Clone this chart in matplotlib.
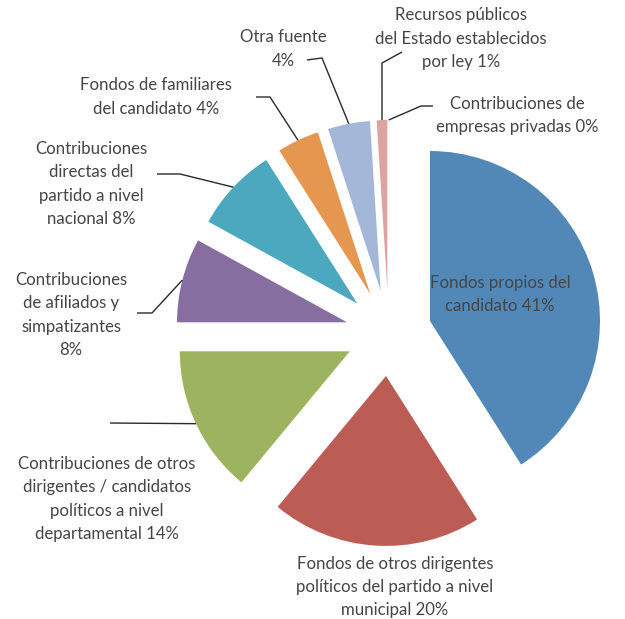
import numpy as np
import matplotlib
matplotlib.use("Agg")
import matplotlib.pyplot as plt

# data
labels = [
    "Fondos propios del\ncandidato 41%",
    "Fondos de otros dirigentes\npolíticos del partido a nivel\nmunicipal 20%",
    "Contribuciones de otros\ndirigentes / candidatos\npolíticos a nivel\ndepartamental 14%",
    "Contribuciones\nde afiliados y\nsimpatizantes\n8%",
    "Contribuciones\ndirectas del\npartido a nivel\nnacional 8%",
    "Fondos de familiares\ndel candidato 4%",
    "Otra fuente\n4%",
    "Recursos públicos\ndel Estado establecidos\npor ley 1%",
    "Contribuciones de\nempresas privadas 0%",
]
values = [41, 20, 14, 8, 8, 4, 4, 1, 0]
colors = ["#5288B8", "#BC5D55", "#9DB35F", "#866EA0", "#4BA8BE",
          "#E5974F", "#A4B7D8", "#DCA3A1", "#E8D0A0"]

W, H = 625, 619
plt.rcParams['font.family'] = ['Lato', 'DejaVu Sans']
fig = plt.figure(figsize=(W / 100, H / 100), dpi=100)
ax = fig.add_axes([0, 0, 1, 1])

# pie geometry in pixel units (y measured from top)
cx, cy = 388.7, 333
R = 170
off = 43  # explode distance, pixels

wedges, _ = ax.pie(values, colors=colors, startangle=90, counterclock=False,
                   radius=R, center=(cx, H - cy), explode=[off] * len(values),
                   wedgeprops=dict(linewidth=0))
ax.set_xlim(0, W)
ax.set_ylim(0, H)
ax.set_aspect('equal')
ax.axis('off')

txt = '#454545'
fs = 12.1


def arc_pt(i):
    w = wedges[i]
    mid = np.deg2rad((w.theta1 + w.theta2) / 2)
    r = R + off
    return cx + r * np.cos(mid), cy - r * np.sin(mid)


# label placement: (x, y pixel, ha), elbow points (pixel, from label towards slice)
place = {
    0: (500, 294.5, 'center', None),
    1: (395, 587, 'center', None),
    2: (107, 499, 'center', [(110, 423)]),
    3: (71, 315, 'center', [(137, 313), (152, 313)]),
    4: (91, 184, 'center', [(157, 174), (180, 174)]),
    5: (156, 97, 'center', [(256, 97), (270, 97)]),
    6: (283, 49, 'center', [(307, 60), (322, 58)]),
    7: (461, 38.5, 'center', [(402, 52), (382, 63)]),
    8: (436, 115.5, 'left', [(433, 106), (421, 106)]),
}

for i, lab in enumerate(labels):
    x, y, ha, elbow = place[i]
    ax.text(x, H - y, lab, ha=ha, va='center', multialignment='center',
            fontsize=fs, color=txt, linespacing=1.55)
    if elbow:
        pts = elbow + [arc_pt(i)]
        xs = [p[0] for p in pts]
        ys = [H - p[1] for p in pts]
        ax.plot(xs, ys, color='#2a2a2a', lw=1.0, solid_capstyle='butt')

fig.savefig("out.png", dpi=100)
